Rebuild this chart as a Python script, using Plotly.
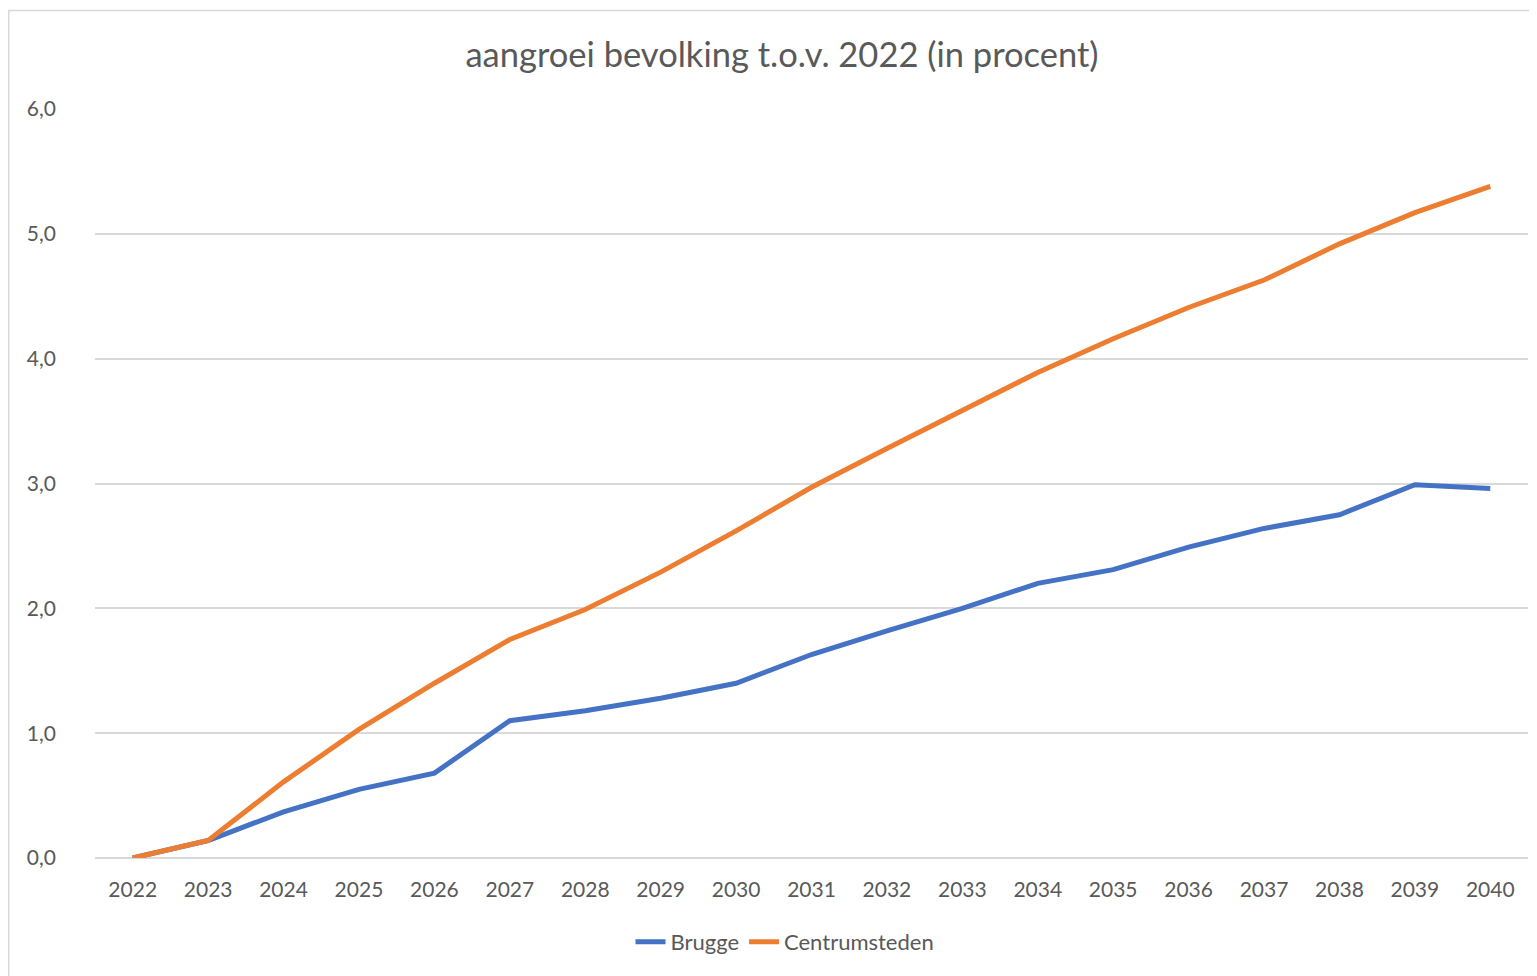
import plotly.graph_objects as go

years = [str(y) for y in range(2022, 2041)]
brugge = [0.00, 0.14, 0.37, 0.55, 0.68, 1.10, 1.18, 1.28, 1.40, 1.63, 1.82, 2.00,
          2.20, 2.31, 2.49, 2.64, 2.75, 2.99, 2.96]
centrumsteden = [0.00, 0.14, 0.61, 1.03, 1.40, 1.75, 1.99, 2.29, 2.62, 2.97, 3.28,
                 3.59, 3.89, 4.16, 4.41, 4.63, 4.92, 5.17, 5.38]
y_ticks = [0, 1, 2, 3, 4, 5, 6]

TEXT = "#595959"
GRID = "#D9D9D9"
FONT = "Lato, 'Open Sans', sans-serif"

fig = go.Figure()
fig.add_trace(go.Scatter(x=years, y=brugge, mode="lines", name="Brugge",
                         line=dict(color="#4472C4", width=5)))
fig.add_trace(go.Scatter(x=years, y=centrumsteden, mode="lines", name="Centrumsteden",
                         line=dict(color="#ED7D31", width=5)))

# page body has an 8px margin, so figure is slightly smaller
W, H = 1529, 968
L, R, T, B = 87, 9, 101, 118
pw, ph = W - L - R, H - T - B

def px_x(px):
    return (px - L) / pw

def px_y(py):
    return (H - B - py) / ph

fig.update_layout(
    width=W, height=H,
    margin=dict(l=L, r=R, t=T, b=B),
    paper_bgcolor="white", plot_bgcolor="white",
    separators=",.",
    font=dict(family=FONT, color=TEXT, size=21),
    title=dict(text="aangroei bevolking t.o.v. 2022 (in procent)",
               x=774 / W, xref="container", xanchor="center",
               y=1 - 47 / H, yref="container", yanchor="middle",
               font=dict(family=FONT, size=34.5, color=TEXT)),
    showlegend=True,
    legend=dict(orientation="h", x=(785 - 8) / W, xref="container", xanchor="center",
                y=1 - 934 / H, yref="container", yanchor="middle",
                font=dict(family=FONT, size=22, color=TEXT),
                traceorder="normal"),
    xaxis=dict(type="category", range=[-0.5, len(years) - 0.5], showgrid=False,
               showline=False, zeroline=False, ticks="",
               tickfont=dict(size=21, color=TEXT), ticklabelstandoff=17),
    yaxis=dict(range=[0, 6], tickvals=y_ticks, tickformat=".1f", showgrid=True,
               gridcolor=GRID, gridwidth=1.5, zeroline=True, zerolinecolor=GRID,
               zerolinewidth=1.5, showline=False, ticks="",
               tickfont=dict(size=21, color=TEXT), ticklabelstandoff=38),
    shapes=[dict(type="rect", xref="paper", yref="paper",
                 x0=px_x(0.75), x1=px_x(1600), y0=px_y(1050), y1=px_y(2.5),
                 line=dict(color=GRID, width=1.5), fillcolor="rgba(0,0,0,0)",
                 layer="below")],
)

fig.write_html("out.html")
